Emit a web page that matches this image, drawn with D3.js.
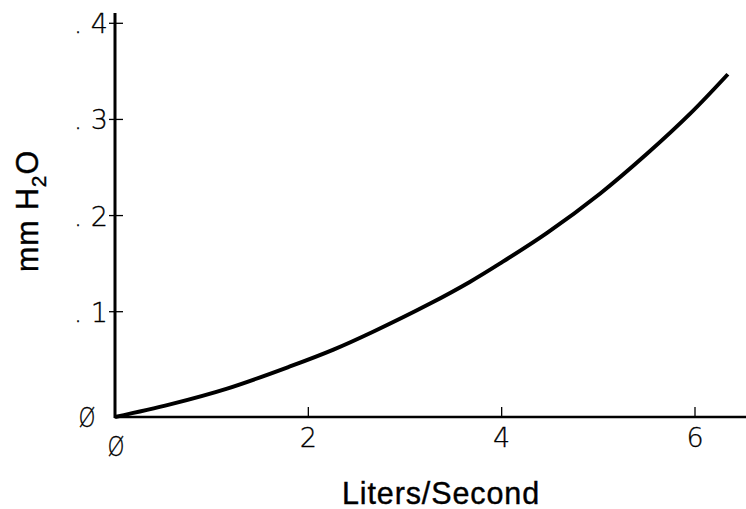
<!DOCTYPE html>
<html>
<head>
<meta charset="utf-8">
<script src="https://d3js.org/d3.v7.min.js"></script>
<style>
  body { margin: 0; background: #fff; }
  .tick-label { font-family: "DejaVu Sans", sans-serif; font-weight: 200; font-size: 27px; fill: #000; stroke: #000; stroke-width: 0.3px; }
  .axis-title { font-family: "Liberation Sans", Arial, sans-serif; font-size: 30.5px; letter-spacing: 0.9px; fill: #000; stroke: #000; stroke-width: 0.4px; }
</style>
</head>
<body>
<div id="chart"></div>
<script>
// values (flow in L/s, pressure in mm H2O)
var flow     = [0, 0.57, 1.16, 1.81, 2.26, 2.67, 3.26, 3.67, 3.98, 4.47, 5.02, 5.5, 5.95, 6.34];
var pressure = [0, 0.012, 0.027, 0.048, 0.064, 0.081, 0.1085, 0.131, 0.150, 0.182, 0.223, 0.264, 0.306, 0.347];

var xTicks = [2, 4, 6];
var xTickLabels = ["2", "4", "6"];
var yTicks = [0.1, 0.2, 0.3, 0.4];
var yTickLabels = [". 1", ". 2", ". 3", ". 4"];
var zeroLabel = "Ø";

var width = 746, height = 509;
var x0 = 115, y0 = 417;

var svg = d3.select("#chart")
  .append("svg")
  .attr("width", width)
  .attr("height", height);

// x scale: 0..6 across the plot
var x = d3.scaleLinear().domain([0, 6]).range([x0, 695]);
// y scale: the original plot is a bit uneven below .1, so use a piecewise scale
var y = d3.scaleLinear().domain([0, 0.1, 0.4]).range([y0, 311.7, 23.3]);

// axis lines
svg.append("line")
  .attr("x1", x0).attr("x2", x0)
  .attr("y1", 13).attr("y2", y0 + 1)
  .attr("stroke", "#000").attr("stroke-width", 3);
svg.append("line")
  .attr("x1", x0 - 1).attr("x2", width)
  .attr("y1", y0).attr("y2", y0)
  .attr("stroke", "#000").attr("stroke-width", 2.5);

// x ticks point up into the plot
svg.append("g")
  .selectAll("line")
  .data(xTicks)
  .enter()
  .append("line")
  .attr("x1", d => x(d)).attr("x2", d => x(d))
  .attr("y1", y0 - 10).attr("y2", y0)
  .attr("stroke", "#000").attr("stroke-width", 1.3);

svg.append("g")
  .selectAll("text")
  .data(xTicks)
  .enter()
  .append("text")
  .attr("class", "tick-label")
  .attr("x", d => x(d))
  .attr("y", 447)
  .style("text-anchor", "middle")
  .text((d, i) => xTickLabels[i]);

// y ticks cross the axis
svg.append("g")
  .selectAll("line")
  .data(yTicks)
  .enter()
  .append("line")
  .attr("x1", x0 - 6).attr("x2", x0 + 8)
  .attr("y1", d => y(d)).attr("y2", d => y(d))
  .attr("stroke", "#000").attr("stroke-width", 1.3);

svg.append("g")
  .selectAll("text")
  .data(yTicks)
  .enter()
  .append("text")
  .attr("class", "tick-label")
  .attr("x", 108)
  .attr("y", d => y(d) + 10)
  .style("text-anchor", "end")
  .text((d, i) => yTickLabels[i]);

// zero labels on both axes
svg.append("text")
  .attr("class", "tick-label")
  .attr("transform", "translate(87," + (y0 + 10) + ") scale(0.8,1)")
  .style("text-anchor", "middle")
  .text(zeroLabel);
svg.append("text")
  .attr("class", "tick-label")
  .attr("transform", "translate(" + (x0 + 1) + ",456) scale(0.8,1)")
  .style("text-anchor", "middle")
  .text(zeroLabel);

// axis titles
svg.append("text")
  .attr("class", "axis-title")
  .attr("x", 441)
  .attr("y", 504)
  .style("text-anchor", "middle")
  .text("Liters/Second");

var yTitle = svg.append("text")
  .attr("class", "axis-title")
  .attr("transform", "translate(38,211) rotate(-90)")
  .style("text-anchor", "middle");
yTitle.append("tspan").text("mm H");
yTitle.append("tspan").attr("dy", 8).style("font-size", "21px").text("2");
yTitle.append("tspan").attr("dy", -8).text("O");

// the curve
var line = d3.line()
  .x(d => x(d[0]))
  .y(d => y(d[1]))
  .curve(d3.curveCatmullRom);

svg.append("path")
  .datum(d3.zip(flow, pressure))
  .attr("d", line)
  .attr("fill", "none")
  .attr("stroke", "#000")
  .attr("stroke-width", 4);
</script>
</body>
</html>
